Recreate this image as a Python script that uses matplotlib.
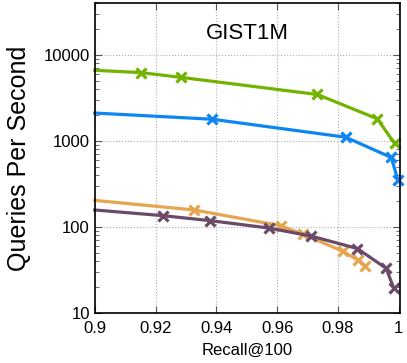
import matplotlib
matplotlib.use("Agg")
from matplotlib import pyplot as plt
from matplotlib.ticker import LogLocator, NullFormatter, FixedLocator

plt.rcParams['font.family'] = ['Liberation Sans', 'DejaVu Sans']

# recall / QPS per method (first point of each lies at the left edge)
green_recall = [0.9, 0.9151, 0.9285, 0.9733, 0.993, 0.9987]
green_qps = [6590, 6200, 5450, 3450, 1800, 930]

blue_recall = [0.9, 0.9387, 0.9826, 0.9976, 0.9998]
blue_qps = [2100, 1780, 1100, 640, 348]

orange_recall = [0.9, 0.9328, 0.9612, 0.9685, 0.9817, 0.9866, 0.9891]
orange_qps = [203, 157, 103, 82, 52, 41, 35]

purple_recall = [0.9, 0.9223, 0.938, 0.9572, 0.9713, 0.9864, 0.9959, 0.9984]
purple_qps = [157, 135, 118, 97, 78, 56, 33, 19.5]

x_ticks = [0.9, 0.92, 0.94, 0.96, 0.98, 1.0]
x_labels = ['0.9', '0.92', '0.94', '0.96', '0.98', '1']
y_ticks = [10, 100, 1000, 10000]
y_labels = ['10', '100', '1000', '10000']

fig = plt.figure(figsize=(4.07, 3.63), dpi=100)
ax = fig.add_axes([0.233, 0.138, 0.75, 0.854])

series = [
    (green_recall, green_qps, '#72b300'),
    (blue_recall, blue_qps, '#0b86f2'),
    (orange_recall, orange_qps, '#e6a650'),
    (purple_recall, purple_qps, '#6b4a69'),
]
for r, q, c in series:
    ax.plot(r, q, color=c, linewidth=2.3, marker='x', markersize=7,
            markeredgewidth=2.3, markevery=list(range(1, len(r))),
            solid_joinstyle='round', clip_on=False)

ax.set_yscale('log')
ax.set_xlim(0.9, 1.0005)
ax.set_ylim(10, 40000)

ax.xaxis.set_major_locator(FixedLocator(x_ticks))
ax.set_xticklabels(x_labels)
ax.set_yticks(y_ticks)
ax.set_yticklabels(y_labels)
ax.yaxis.set_minor_locator(LogLocator(base=10, subs=range(2, 10)))
ax.yaxis.set_minor_formatter(NullFormatter())

ax.tick_params(which='both', direction='in', top=True, right=True,
               labelsize=12, color='#555555')
ax.tick_params(axis='x', pad=6)
ax.tick_params(which='major', length=5)
ax.tick_params(which='minor', length=3)
ax.grid(True, which='major', linestyle=':', color='#b0b0b0', linewidth=0.8)
for s in ax.spines.values():
    s.set_linewidth(1.2)

ax.text(0.5, 0.9, 'GIST1M', transform=ax.transAxes, ha='center',
        va='center', fontsize=16)
ax.set_xlabel('Recall@100', fontsize=12, labelpad=5)
ax.set_ylabel('Queries Per Second', fontsize=18, labelpad=9)

fig.savefig('out.png', dpi=100)
